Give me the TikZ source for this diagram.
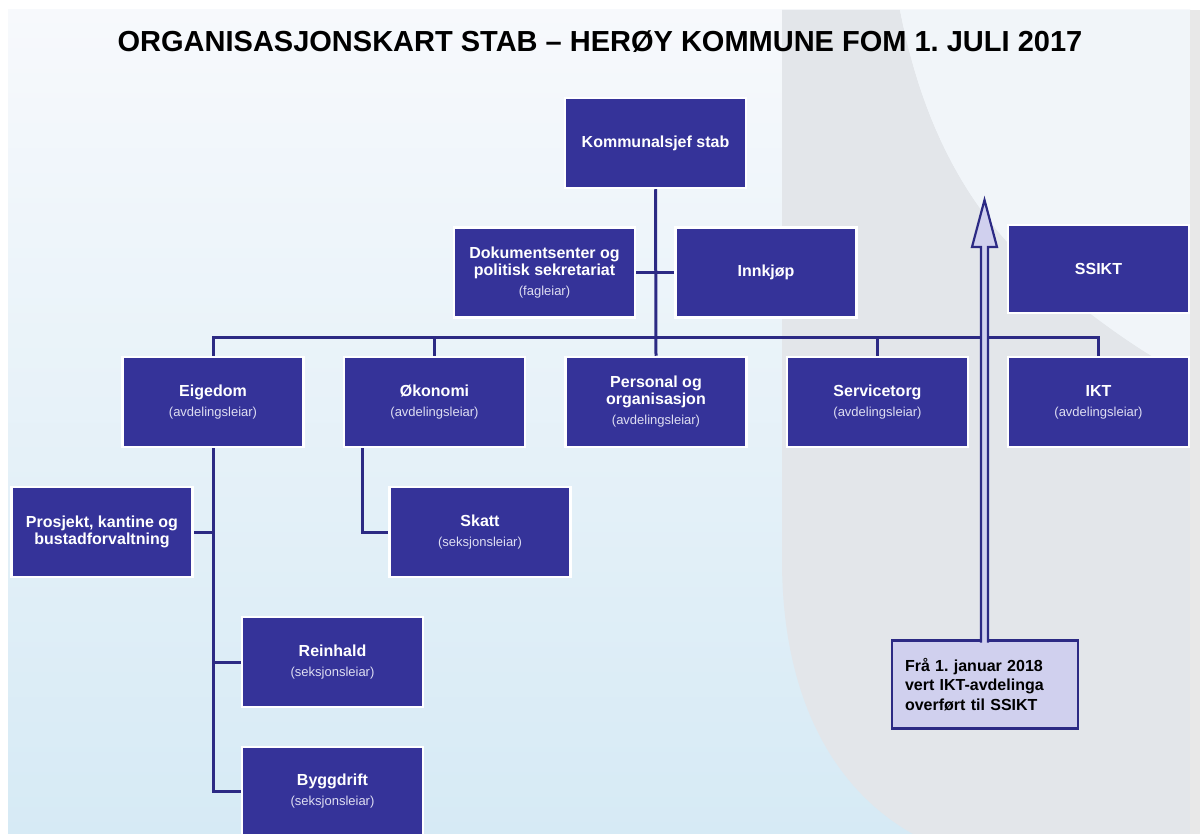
\documentclass[tikz,border=0pt]{standalone}
\usepackage{fontspec}
\setmainfont{Liberation Sans}
\definecolor{boxc}{RGB}{53,51,153}
\definecolor{linec}{RGB}{44,42,132}
\definecolor{subc}{RGB}{222,222,242}
\definecolor{lav}{RGB}{208,208,238}
\definecolor{bgtop}{RGB}{247,249,252}
\definecolor{bgbot}{RGB}{214,234,245}
\definecolor{greyband}{RGB}{227,230,234}
\definecolor{lightreg}{RGB}{241,245,249}
\definecolor{stripc}{RGB}{232,232,232}
\pgfdeclarelayer{back}
\pgfdeclarelayer{wires}
\pgfsetlayers{back,wires,main}
\frenchspacing
\tikzset{
  orgbox/.style={rectangle, fill=boxc, draw=white, line width=2.5pt,
    minimum width=181pt, minimum height=90pt, inner sep=2pt, align=center,
    text=white, font=\fontsize{16}{17}\selectfont\bfseries},
  conn/.style={draw=linec, line width=3pt},
  callbox/.style={rectangle, fill=lav, draw=linec, line width=2.5pt,
    minimum width=186pt, minimum height=88pt, text width=160pt, inner xsep=13pt,
    align=left, text=black, font=\fontsize{16}{19.5}\selectfont\bfseries},
  blockarrow/.style={fill=lav, draw=linec, line width=2.2pt, line join=miter},
  titletext/.style={font=\fontsize{29}{32}\selectfont\bfseries, text=black}
}
\newcommand\subtxt[1]{{\fontsize{13}{14}\selectfont\mdseries\color{subc}#1}}
\begin{document}
\frenchspacing
\begin{tikzpicture}[x=1pt,y=-1pt]
\useasboundingbox (0,0) rectangle (1200,834);
\begin{pgfonlayer}{back}
  \fill[white] (0,0) rectangle (1200,834);
  \shade[top color=bgtop, bottom color=bgbot] (8,10) rectangle (1190,834);
  \fill[greyband] (782,10) -- (782,560) .. controls (782,700) and (835,790) .. (913,834)
     -- (1190,834) -- (1190,375) .. controls (1160,365) and (1110,330) .. (1060,290)
     .. controls (980,230) and (925,140) .. (900,10) -- cycle;
  \fill[lightreg] (900,10) .. controls (925,140) and (980,230) .. (1060,290)
     .. controls (1110,330) and (1160,365) .. (1190,375) -- (1190,10) -- cycle;
  \fill[stripc] (1190,10) rectangle (1200,834);
\end{pgfonlayer}

\node[titletext] (title) at (600,42) {ORGANISASJONSKART STAB – HERØY KOMMUNE FOM 1. JULI 2017};

\node[orgbox] (ks) at (655.5,143) {Kommunalsjef stab};
\node[orgbox] (dok) at (544.5,272.5) {Dokumentsenter og\\politisk sekretariat\\[3pt]\subtxt{(fagleiar)}};
\node[orgbox] (inn) at (766,272.5) {Innkjøp};
\node[orgbox, minimum height=88pt] (ssikt) at (1098.5,269) {SSIKT};

\node[orgbox] (eig) at (213,402) {Eigedom\\[3pt]\subtxt{(avdelingsleiar)}};
\node[orgbox] (oko) at (434.5,402) {Økonomi\\[3pt]\subtxt{(avdelingsleiar)}};
\node[orgbox] (per) at (656,402) {Personal og\\organisasjon\\[3pt]\subtxt{(avdelingsleiar)}};
\node[orgbox] (ser) at (877.5,402) {Servicetorg\\[3pt]\subtxt{(avdelingsleiar)}};
\node[orgbox] (ikt) at (1098.5,402) {IKT\\[3pt]\subtxt{(avdelingsleiar)}};

\node[orgbox] (pro) at (102,532) {Prosjekt, kantine og\\bustadforvaltning};
\node[orgbox] (ska) at (480,532) {Skatt\\[3pt]\subtxt{(seksjonsleiar)}};
\node[orgbox] (rei) at (332.5,662) {Reinhald\\[3pt]\subtxt{(seksjonsleiar)}};
\node[orgbox, minimum height=88pt] (byg) at (332.5,791) {Byggdrift\\[3pt]\subtxt{(seksjonsleiar)}};

\coordinate (bus) at (656,338);
\coordinate (okodrop) at (362,0);

\begin{pgfonlayer}{wires}
  \draw[conn] (ks.south) -- (per.north);
  \draw[conn] (dok.east) -- (inn.west);
  \draw[conn] (eig.north) |- (bus) -| (ikt.north);
  \draw[conn] (oko.north) -- (oko.north |- bus);
  \draw[conn] (ser.north) -- (ser.north |- bus);
  \draw[conn] (eig.south) |- (byg.west);
  \draw[conn] (pro.east) -- (pro.east -| eig.south);
  \draw[conn] (rei.west) -- (rei.west -| eig.south);
  \draw[conn] (oko.south -| okodrop) |- (ska.west);
\end{pgfonlayer}

\node[callbox] (note) at (985,684.5) {Frå 1. januar 2018\\vert IKT-avdelinga\\overført til SSIKT};
\filldraw[blockarrow] (981,642.5) -- (981,247) -- (972,247) -- (984.5,200) -- (997,247)
   -- (988,247) -- (988,642.5);
\end{tikzpicture}
\end{document}
